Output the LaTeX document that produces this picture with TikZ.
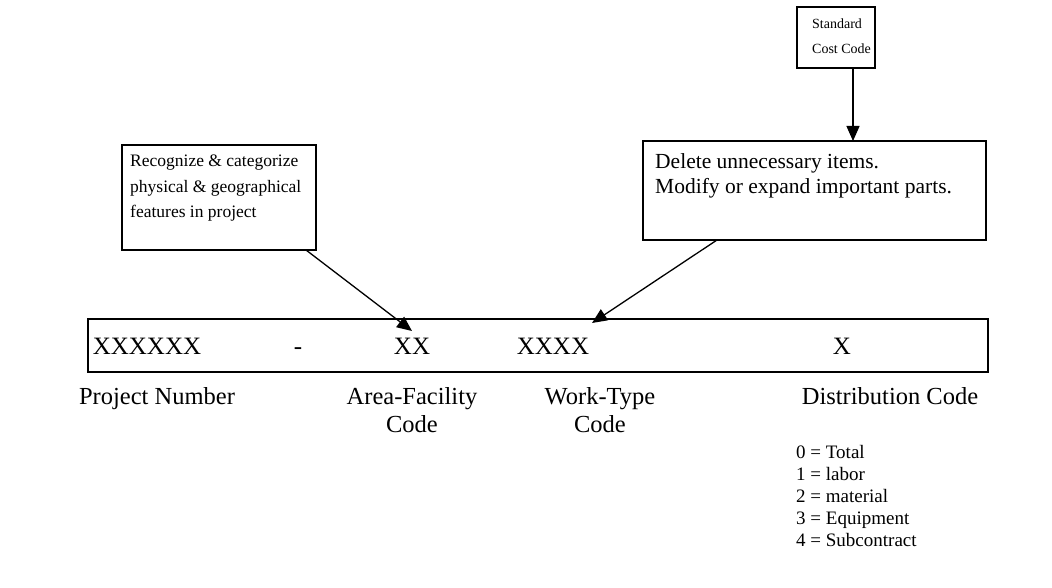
\documentclass[tikz,border=0pt]{standalone}
\usepackage{fontspec}
\setmainfont{Liberation Serif}
\usetikzlibrary{arrows.meta}
\begin{document}
\begin{tikzpicture}[x=1pt,y=-1pt,
  frame/.style={draw,line width=1.3pt},
  txt/.style={inner sep=0pt,align=left,anchor=north west},
  field/.style={font=\fontsize{25}{28}\selectfont,anchor=base},
  caption/.style={font=\fontsize{24.5}{28}\selectfont,align=center,anchor=north,inner sep=0pt},
  arr/.style={line width=1.3pt,-{Triangle[length=15pt,width=13pt]}}]
\useasboundingbox (0,0) rectangle (1052,588);

% annotation boxes
\draw[frame] (797,7) rectangle (875,68);
\node[txt,font=\fontsize{14}{25}\selectfont] (std) at (812,19) {Standard\\Cost Code};
\coordinate (stdb) at (853,68);

\draw[frame] (643,141) rectangle (986,240);
\node[txt,font=\fontsize{21.5}{25}\selectfont] (del) at (655,153) {Delete unnecessary items.\\Modify or expand important parts.};
\coordinate (delt) at (853,141);
\coordinate (delb) at (717,240);

\draw[frame] (122,145) rectangle (316,250);
\node[txt,font=\fontsize{17.5}{25.5}\selectfont] (rec) at (130,155) {Recognize \& categorize\\physical \& geographical\\features in project};
\coordinate (recb) at (306,250);

% code field
\draw[frame] (88,319) rectangle (988,372);
\node[field] (f1) at (147,354) {XXXXXX};
\node[field] (dash) at (298,354) {-};
\node[field] (f2) at (412,354) {XX};
\node[field] (f3) at (553,354) {XXXX};
\node[field] (f4) at (842,354) {X};

% arrows
\draw[arr] (stdb) -- (delt);
\draw[arr] (recb) -- (412,331);
\draw[arr] (delb) -- (592,323);

% captions
\node[caption] (c1) at (157,387) {Project Number};
\node[caption] (c2) at (412,387) {Area-Facility\\Code};
\node[caption] (c3) at (600,387) {Work-Type\\Code};
\node[caption] (c4) at (890,387) {Distribution Code};

\node[txt,font=\fontsize{19}{22}\selectfont] (list) at (796,445)
  {0 = Total\\1 = labor\\2 = material\\3 = Equipment\\4 = Subcontract};
\end{tikzpicture}
\end{document}
